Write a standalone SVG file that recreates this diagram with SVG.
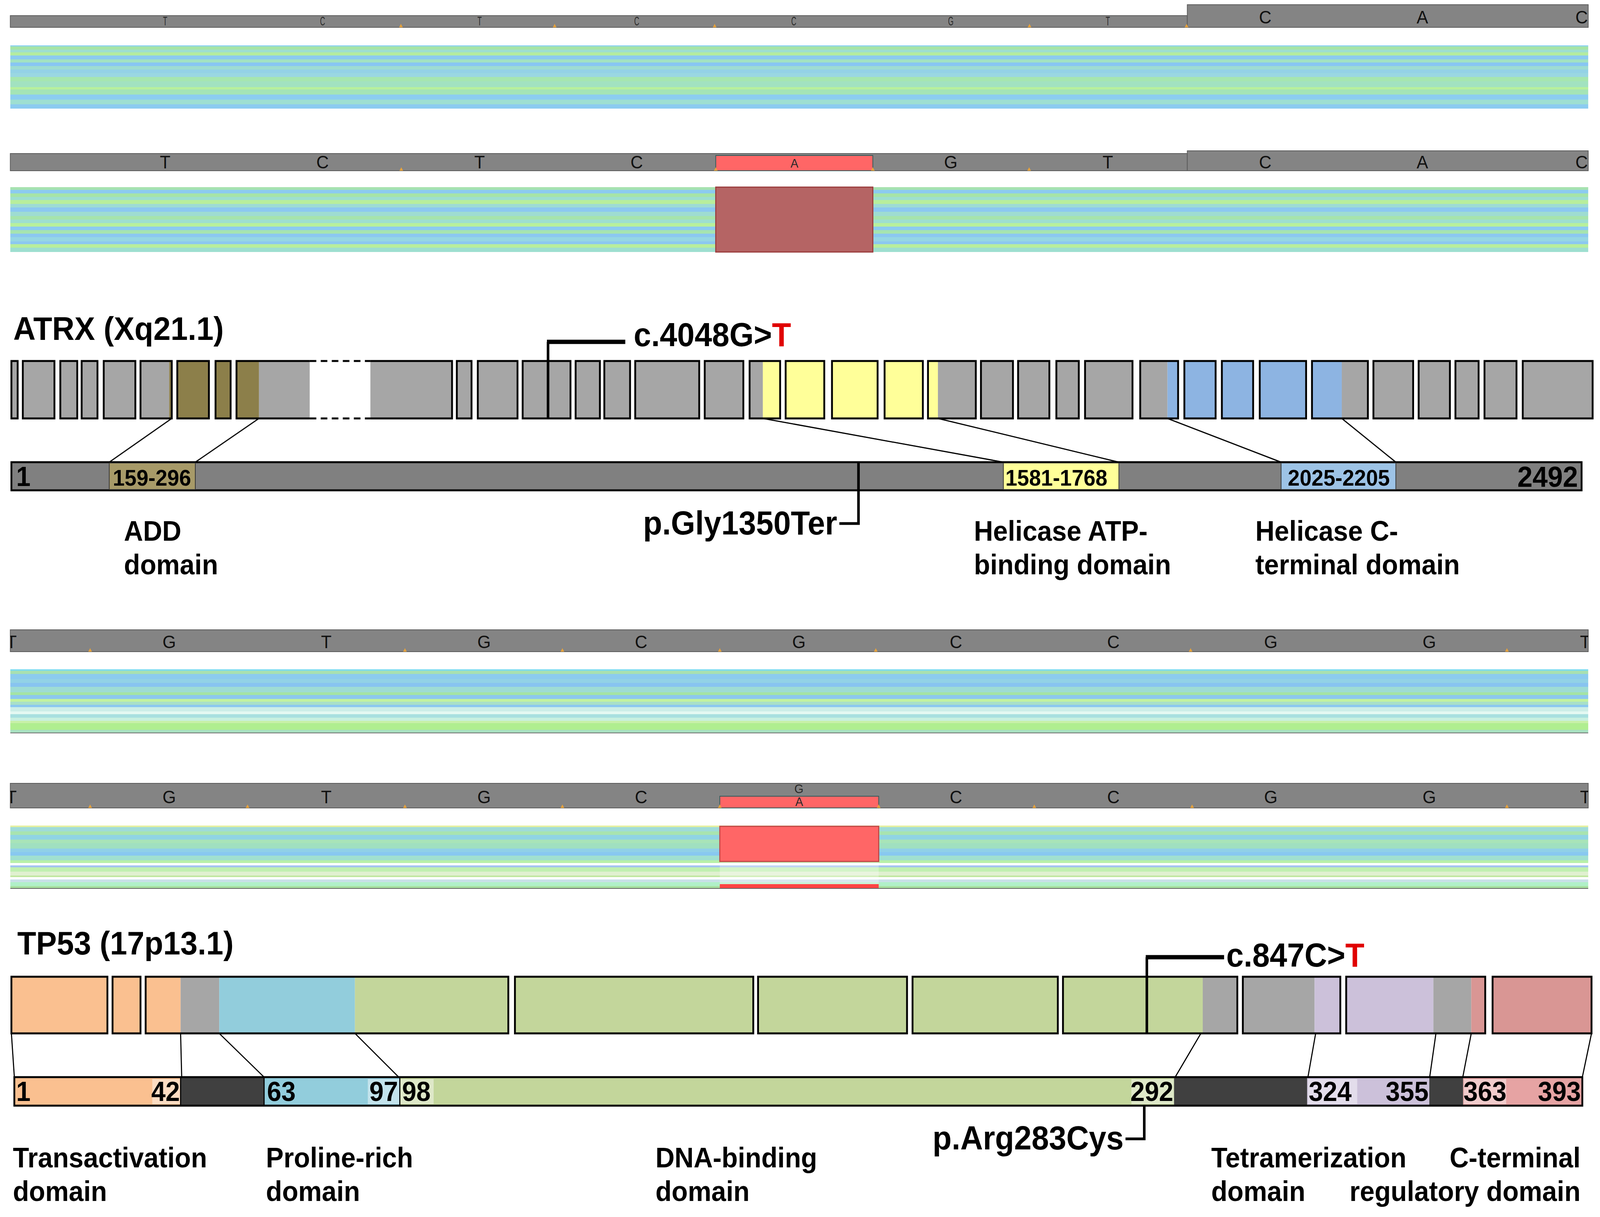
<svg xmlns="http://www.w3.org/2000/svg" width="4350" height="3115" viewBox="0 0 4350 3115">
<style>
.bar{fill:#848484;stroke:#5c5c5c;stroke-width:2}
.base{font-family:"Liberation Sans",Arial,sans-serif;font-size:47px;fill:#111;text-anchor:middle}
.tiny{font-family:"Liberation Sans",Arial,sans-serif;font-size:32px;fill:#2a2a2a;text-anchor:middle}
.pk{fill:#e6a23c}
.ex{stroke:#000;stroke-width:5}
.ol{fill:none;stroke:#000;stroke-width:5}
.g{fill:#a6a6a6}.o{fill:#8c7f4a}.y{fill:#ffff99}.b{fill:#8db4e2}
.pe{fill:#fac090}.bl{fill:#92cddc}.gr{fill:#c3d69b}.lv{fill:#ccc1da}.pi{fill:#d99694}.dk{fill:#404040}
.t{font-family:"Liberation Sans",Arial,sans-serif;font-weight:bold;fill:#000}
.ttl{font-size:84px}.mut{font-size:85px}.lbl{font-size:72px}.num{font-size:70px}.rng{font-size:58px;text-anchor:middle}
.conn{stroke:#000;stroke-width:3;fill:none}
.mline{stroke:#000;stroke-width:7;fill:none}
.mh{stroke:#000;stroke-width:11;fill:none}
.halo{fill:#fff;opacity:0.45}
</style>
<defs>
<clipPath id="clipTrack"><rect x="28" y="0" width="4290" height="3115"/></clipPath>
<linearGradient id="bandA" x1="0" y1="0" x2="0" y2="1">
<stop offset="0" stop-color="#8fd3ee"/><stop offset=".02" stop-color="#8fd3ee"/>
<stop offset=".02" stop-color="#a6e4a6"/><stop offset=".07" stop-color="#a6e4a6"/>
<stop offset=".07" stop-color="#9edfd0"/><stop offset=".11" stop-color="#9edfd0"/>
<stop offset=".11" stop-color="#b4eca0"/><stop offset=".16" stop-color="#b4eca0"/>
<stop offset=".16" stop-color="#8ccbf0"/><stop offset=".22" stop-color="#8ccbf0"/>
<stop offset=".22" stop-color="#a2e2c2"/><stop offset=".27" stop-color="#a2e2c2"/>
<stop offset=".27" stop-color="#88c6f2"/><stop offset=".33" stop-color="#88c6f2"/>
<stop offset=".33" stop-color="#9edcd2"/><stop offset=".38" stop-color="#9edcd2"/>
<stop offset=".38" stop-color="#94d2e6"/><stop offset=".44" stop-color="#94d2e6"/>
<stop offset=".44" stop-color="#9ad7e2"/><stop offset=".50" stop-color="#9ad7e2"/>
<stop offset=".50" stop-color="#a6e6b0"/><stop offset=".57" stop-color="#a6e6b0"/>
<stop offset=".57" stop-color="#a2e2c0"/><stop offset=".66" stop-color="#a2e2c0"/>
<stop offset=".66" stop-color="#b8f09c"/><stop offset=".70" stop-color="#b8f09c"/>
<stop offset=".70" stop-color="#a4e4b6"/><stop offset=".78" stop-color="#a4e4b6"/>
<stop offset=".78" stop-color="#8ccdf0"/><stop offset=".86" stop-color="#8ccdf0"/>
<stop offset=".86" stop-color="#9edfd2"/><stop offset=".93" stop-color="#9edfd2"/>
<stop offset=".93" stop-color="#8ccbf0"/><stop offset="1" stop-color="#8ccbf0"/>
</linearGradient>
<linearGradient id="bandB" x1="0" y1="0" x2="0" y2="1">
<stop offset="0" stop-color="#a6e2b0"/><stop offset=".04" stop-color="#a6e2b0"/>
<stop offset=".04" stop-color="#8ccbf0"/><stop offset=".095" stop-color="#8ccbf0"/>
<stop offset=".095" stop-color="#a6e4a8"/><stop offset=".15" stop-color="#a6e4a8"/>
<stop offset=".15" stop-color="#9edfd0"/><stop offset=".2" stop-color="#9edfd0"/>
<stop offset=".2" stop-color="#b8ee9c"/><stop offset=".257" stop-color="#b8ee9c"/>
<stop offset=".257" stop-color="#9edcd4"/><stop offset=".311" stop-color="#9edcd4"/>
<stop offset=".311" stop-color="#8cc8f0"/><stop offset=".378" stop-color="#8cc8f0"/>
<stop offset=".378" stop-color="#9edcd2"/><stop offset=".446" stop-color="#9edcd2"/>
<stop offset=".446" stop-color="#a6e4ac"/><stop offset=".5" stop-color="#a6e4ac"/>
<stop offset=".5" stop-color="#9edfd0"/><stop offset=".554" stop-color="#9edfd0"/>
<stop offset=".554" stop-color="#b8f09c"/><stop offset=".608" stop-color="#b8f09c"/>
<stop offset=".608" stop-color="#8ccbf0"/><stop offset=".662" stop-color="#8ccbf0"/>
<stop offset=".662" stop-color="#a6e4b0"/><stop offset=".716" stop-color="#a6e4b0"/>
<stop offset=".716" stop-color="#8cc8f0"/><stop offset=".77" stop-color="#8cc8f0"/>
<stop offset=".77" stop-color="#96d6e4"/><stop offset=".838" stop-color="#96d6e4"/>
<stop offset=".838" stop-color="#8cc8f0"/><stop offset=".878" stop-color="#8cc8f0"/>
<stop offset=".878" stop-color="#b8ee9c"/><stop offset=".932" stop-color="#b8ee9c"/>
<stop offset=".932" stop-color="#9edfd0"/><stop offset="1" stop-color="#9edfd0"/>
</linearGradient>
<linearGradient id="bandC" x1="0" y1="0" x2="0" y2="1">
<stop offset="0" stop-color="#7fdcef"/><stop offset=".023" stop-color="#7fdcef"/>
<stop offset=".023" stop-color="#a8e0b0"/><stop offset=".074" stop-color="#a8e0b0"/>
<stop offset=".074" stop-color="#8ccbee"/><stop offset=".150" stop-color="#8ccbee"/>
<stop offset=".150" stop-color="#92d2e6"/><stop offset=".215" stop-color="#92d2e6"/>
<stop offset=".215" stop-color="#88c4f0"/><stop offset=".272" stop-color="#88c4f0"/>
<stop offset=".272" stop-color="#9edcd4"/><stop offset=".357" stop-color="#9edcd4"/>
<stop offset=".357" stop-color="#a4e4a4"/><stop offset=".405" stop-color="#a4e4a4"/>
<stop offset=".405" stop-color="#8cc8ee"/><stop offset=".462" stop-color="#8cc8ee"/>
<stop offset=".462" stop-color="#c2f2a0"/><stop offset=".504" stop-color="#c2f2a0"/>
<stop offset=".504" stop-color="#a8e0c8"/><stop offset=".555" stop-color="#a8e0c8"/>
<stop offset=".555" stop-color="#8cc8f0"/><stop offset=".589" stop-color="#8cc8f0"/>
<stop offset=".589" stop-color="#cdeee8"/><stop offset=".660" stop-color="#cdeee8"/>
<stop offset=".660" stop-color="#e4f8f2"/><stop offset=".703" stop-color="#e4f8f2"/>
<stop offset=".703" stop-color="#a8e0e0"/><stop offset=".759" stop-color="#a8e0e0"/>
<stop offset=".759" stop-color="#c8f0e0"/><stop offset=".802" stop-color="#c8f0e0"/>
<stop offset=".802" stop-color="#c8f0a8"/><stop offset=".844" stop-color="#c8f0a8"/>
<stop offset=".844" stop-color="#b0ee90"/><stop offset=".943" stop-color="#b0ee90"/>
<stop offset=".943" stop-color="#a8e0c0"/><stop offset=".986" stop-color="#a8e0c0"/>
<stop offset=".986" stop-color="#707070"/><stop offset="1" stop-color="#707070"/>
</linearGradient>
<linearGradient id="bandD" x1="0" y1="0" x2="0" y2="1">
<stop offset="0" stop-color="#e6f0a0"/><stop offset=".023" stop-color="#e6f0a0"/>
<stop offset=".023" stop-color="#a0dcd8"/><stop offset=".093" stop-color="#a0dcd8"/>
<stop offset=".093" stop-color="#a8e4b0"/><stop offset=".150" stop-color="#a8e4b0"/>
<stop offset=".150" stop-color="#90d4e4"/><stop offset=".221" stop-color="#90d4e4"/>
<stop offset=".221" stop-color="#a8e4b8"/><stop offset=".278" stop-color="#a8e4b8"/>
<stop offset=".278" stop-color="#a0e0c0"/><stop offset=".363" stop-color="#a0e0c0"/>
<stop offset=".363" stop-color="#90d0e8"/><stop offset=".419" stop-color="#90d0e8"/>
<stop offset=".419" stop-color="#88c8f0"/><stop offset=".476" stop-color="#88c8f0"/>
<stop offset=".476" stop-color="#a0e0d0"/><stop offset=".547" stop-color="#a0e0d0"/>
<stop offset=".547" stop-color="#b8f0a8"/><stop offset=".595" stop-color="#b8f0a8"/>
<stop offset=".595" stop-color="#ffffff"/><stop offset=".632" stop-color="#ffffff"/>
<stop offset=".632" stop-color="#a4c4f0"/><stop offset=".660" stop-color="#a4c4f0"/>
<stop offset=".660" stop-color="#c0f0b0"/><stop offset=".731" stop-color="#c0f0b0"/>
<stop offset=".731" stop-color="#e0f0d0"/><stop offset=".788" stop-color="#e0f0d0"/>
<stop offset=".788" stop-color="#c0e8a0"/><stop offset=".816" stop-color="#c0e8a0"/>
<stop offset=".816" stop-color="#ffffff"/><stop offset=".850" stop-color="#ffffff"/>
<stop offset=".850" stop-color="#c8e0e8"/><stop offset=".895" stop-color="#c8e0e8"/>
<stop offset=".895" stop-color="#b0f0c8"/><stop offset=".958" stop-color="#b0f0c8"/>
<stop offset=".958" stop-color="#a8e0a0"/><stop offset=".986" stop-color="#a8e0a0"/>
<stop offset=".986" stop-color="#606060"/><stop offset="1" stop-color="#606060"/>
</linearGradient>
</defs>
<rect width="4350" height="3115" fill="#fff"/>
<g id="figure" transform="scale(0.9416,1)">

<!-- ATRX sequencing traces -->
<g id="atrx-reference-trace">
<rect class="bar" x="28" y="40" width="3200" height="30"/>
<rect class="bar" x="3228" y="12" width="1090" height="58"/>
<g clip-path="url(#clipTrack)">
<text class="tiny" transform="translate(449,65) scale(0.6,1)">T</text>
<text class="tiny" transform="translate(877,65) scale(0.6,1)">C</text>
<text class="tiny" transform="translate(1304,65) scale(0.6,1)">T</text>
<text class="tiny" transform="translate(1731,65) scale(0.6,1)">C</text>
<text class="tiny" transform="translate(2158,65) scale(0.6,1)">C</text>
<text class="tiny" transform="translate(2585,65) scale(0.6,1)">G</text>
<text class="tiny" transform="translate(3012,65) scale(0.6,1)">T</text>
<text class="base" x="3440" y="60">C</text>
<text class="base" x="3867" y="60">A</text>
<text class="base" x="4300" y="60">C</text>
</g>
<path class="pk" d="M1085,70 L1090,61 L1095,70 Z M1503,70 L1508,61 L1513,70 Z M1938,70 L1943,61 L1948,70 Z M2794,70 L2799,61 L2804,70 Z M3221,70 L3226,61 L3231,70 Z"/>
<rect x="28" y="116" width="4290" height="162" fill="url(#bandA)"/>
</g>
<g id="atrx-patient-trace">
<rect class="bar" x="28" y="393" width="3200" height="44"/>
<rect class="bar" x="3228" y="386" width="1090" height="51"/>
<rect x="1946" y="398" width="427" height="39" fill="#ff6666" stroke="#2f5a5a" stroke-width="2"/>
<g clip-path="url(#clipTrack)">
<text class="base" x="449" y="431">T</text>
<text class="base" x="877" y="431">C</text>
<text class="base" x="1304" y="431">T</text>
<text class="base" x="1731" y="431">C</text>
<text class="tiny" x="2160" y="429" fill="#7a1a1a">A</text>
<text class="base" x="2585" y="431">G</text>
<text class="base" x="3012" y="431">T</text>
<text class="base" x="3440" y="431">C</text>
<text class="base" x="3867" y="431">A</text>
<text class="base" x="4300" y="431">C</text>
</g>
<path class="pk" d="M1086,437 L1091,428 L1096,437 Z M1941,437 L1946,428 L1951,437 Z M2368,437 L2373,428 L2378,437 Z M2793,437 L2798,428 L2803,437 Z"/>
<rect x="28" y="479" width="4290" height="166" fill="url(#bandB)"/>
<rect x="1946" y="479" width="427" height="166" fill="#b56464" stroke="#9a3c3c" stroke-width="3"/>
</g>

<!-- ATRX gene -->
<g id="atrx-title"><text class="t ttl" x="36" y="870">ATRX (Xq21.1)</text></g>
<g id="atrx-exons">
<rect class="g ex" x="31" y="924" width="17" height="147"/>
<rect class="g ex" x="62" y="924" width="86" height="147"/>
<rect class="g ex" x="164" y="924" width="46" height="147"/>
<rect class="g ex" x="222" y="924" width="43" height="147"/>
<rect class="g ex" x="282" y="924" width="86" height="147"/>
<rect class="g" x="382" y="924" width="78" height="147"/><rect class="o" x="460" y="924" width="7" height="147"/><rect class="ol" x="382" y="924" width="85" height="147"/>
<rect class="o ex" x="482" y="924" width="86" height="147"/>
<rect class="o ex" x="586" y="924" width="41" height="147"/>
<rect class="o" x="643" y="924" width="61" height="147"/><rect class="g" x="704" y="924" width="138" height="147"/><rect class="g" x="1007" y="924" width="222" height="147"/>
<path class="ol" d="M842,924 H643 V1071 H842 M1007,924 H1229 V1071 H1007"/>
<path class="ol" stroke-dasharray="18 12" d="M842,924 H1007 M842,1071 H1007"/>
<rect class="g ex" x="1242" y="924" width="40" height="147"/>
<rect class="g ex" x="1299" y="924" width="108" height="147"/>
<rect class="g ex" x="1421" y="924" width="130" height="147"/>
<rect class="g ex" x="1565" y="924" width="66" height="147"/>
<rect class="g ex" x="1643" y="924" width="70" height="147"/>
<rect class="g ex" x="1727" y="924" width="174" height="147"/>
<rect class="g ex" x="1916" y="924" width="105" height="147"/>
<rect class="g" x="2038" y="924" width="36" height="147"/><rect class="y" x="2074" y="924" width="47" height="147"/><rect class="ol" x="2038" y="924" width="83" height="147"/>
<rect class="y ex" x="2136" y="924" width="105" height="147"/>
<rect class="y ex" x="2262" y="924" width="124" height="147"/>
<rect class="y ex" x="2405" y="924" width="104" height="147"/>
<rect class="y" x="2523" y="924" width="27" height="147"/><rect class="g" x="2550" y="924" width="103" height="147"/><rect class="ol" x="2523" y="924" width="130" height="147"/>
<rect class="g ex" x="2667" y="924" width="87" height="147"/>
<rect class="g ex" x="2768" y="924" width="85" height="147"/>
<rect class="g ex" x="2872" y="924" width="61" height="147"/>
<rect class="g ex" x="2950" y="924" width="129" height="147"/>
<rect class="g" x="3100" y="924" width="74" height="147"/><rect class="b" x="3174" y="924" width="29" height="147"/><rect class="ol" x="3100" y="924" width="103" height="147"/>
<rect class="b ex" x="3220" y="924" width="85" height="147"/>
<rect class="b ex" x="3322" y="924" width="85" height="147"/>
<rect class="b ex" x="3425" y="924" width="126" height="147"/>
<rect class="b" x="3567" y="924" width="81" height="147"/><rect class="g" x="3648" y="924" width="71" height="147"/><rect class="ol" x="3567" y="924" width="152" height="147"/>
<rect class="g ex" x="3734" y="924" width="108" height="147"/>
<rect class="g ex" x="3857" y="924" width="85" height="147"/>
<rect class="g ex" x="3957" y="924" width="63" height="147"/>
<rect class="g ex" x="4036" y="924" width="87" height="147"/>
<rect class="g ex" x="4140" y="924" width="190" height="147"/>
</g>
<g id="atrx-protein">
<rect x="31" y="1183" width="4269" height="72" fill="#808080" stroke="#000" stroke-width="5"/>
<rect x="297" y="1185" width="234" height="68" fill="#a79a68" stroke="#333" stroke-width="2"/>
<rect x="2728" y="1185" width="314" height="68" fill="#ffff99" stroke="#333" stroke-width="2"/>
<rect x="3483" y="1185" width="312" height="68" fill="#9dc3e6" stroke="#333" stroke-width="2"/>
<text class="t num" x="44" y="1244" font-size="62">1</text>
<text class="t rng" x="413" y="1243">159-296</text>
<text class="t rng" x="2872" y="1243">1581-1768</text>
<text class="t rng" x="3640" y="1243">2025-2205</text>
<text class="t" x="4290" y="1246" font-size="74" text-anchor="end">2492</text>
</g>
<g id="atrx-connectors">
<line class="conn" x1="467" y1="1071" x2="297" y2="1183"/>
<line class="conn" x1="704" y1="1071" x2="531" y2="1183"/>
<line class="conn" x1="2074" y1="1071" x2="2728" y2="1183"/>
<line class="conn" x1="2550" y1="1071" x2="3042" y2="1183"/>
<line class="conn" x1="3174" y1="1071" x2="3483" y2="1183"/>
<line class="conn" x1="3648" y1="1071" x2="3795" y2="1183"/>
<path class="mline" d="M1490,1071 V875"/>
<path class="mh" d="M1487,875 H1700"/>
<path class="mline" d="M2334,1183 V1340 H2282"/>
</g>
<g id="atrx-labels">
<text class="t mut" x="1723" y="886">c.4048G&gt;<tspan fill="#e00000">T</tspan></text>
<text class="t mut" x="2276" y="1368" text-anchor="end">p.Gly1350Ter</text>
<text class="t lbl" x="337" y="1384">ADD</text>
<text class="t lbl" x="337" y="1470">domain</text>
<text class="t lbl" x="2648" y="1384">Helicase ATP-</text>
<text class="t lbl" x="2648" y="1470">binding domain</text>
<text class="t lbl" x="3413" y="1384">Helicase C-</text>
<text class="t lbl" x="3413" y="1470">terminal domain</text>
</g>

<!-- TP53 sequencing traces -->
<g id="tp53-reference-trace">
<rect class="bar" x="28" y="1612" width="4290" height="56"/>
<g clip-path="url(#clipTrack)">
<text class="base" x="31" y="1659">T</text>
<text class="base" x="460" y="1659">G</text>
<text class="base" x="887" y="1659">T</text>
<text class="base" x="1316" y="1659">G</text>
<text class="base" x="1743" y="1659">C</text>
<text class="base" x="2172" y="1659">G</text>
<text class="base" x="2599" y="1659">C</text>
<text class="base" x="3027" y="1659">C</text>
<text class="base" x="3455" y="1659">G</text>
<text class="base" x="3886" y="1659">G</text>
<text class="base" x="4310" y="1659">T</text>
</g>
<path class="pk" d="M240,1668 L245,1659 L250,1668 Z M1096,1668 L1101,1659 L1106,1668 Z M1524,1668 L1529,1659 L1534,1668 Z M1952,1668 L1957,1659 L1962,1668 Z M2376,1668 L2381,1659 L2386,1668 Z M3232,1668 L3237,1659 L3242,1668 Z M4092,1668 L4097,1659 L4102,1668 Z"/>
<rect x="28" y="1713" width="4290" height="164" fill="url(#bandC)"/>
</g>
<g id="tp53-patient-trace">
<rect class="bar" x="28" y="2005" width="4290" height="63"/>
<rect x="1957" y="2038" width="432" height="30" fill="#ff6666" stroke="#2f5a5a" stroke-width="2"/>
<g clip-path="url(#clipTrack)">
<text class="base" x="31" y="2056">T</text>
<text class="base" x="460" y="2056">G</text>
<text class="base" x="887" y="2056">T</text>
<text class="base" x="1316" y="2056">G</text>
<text class="base" x="1743" y="2056">C</text>
<text class="tiny" x="2172" y="2030" font-size="20">G</text>
<text class="tiny" x="2173" y="2063" font-size="26" fill="#7a1a1a">A</text>
<text class="base" x="2599" y="2056">C</text>
<text class="base" x="3027" y="2056">C</text>
<text class="base" x="3455" y="2056">G</text>
<text class="base" x="3886" y="2056">G</text>
<text class="base" x="4310" y="2056">T</text>
</g>
<path class="pk" d="M240,2068 L245,2059 L250,2068 Z M668,2068 L673,2059 L678,2068 Z M1096,2068 L1101,2059 L1106,2068 Z M1524,2068 L1529,2059 L1534,2068 Z M1952,2068 L1957,2059 L1962,2068 Z M2384,2068 L2389,2059 L2394,2068 Z M2807,2068 L2812,2059 L2817,2068 Z M3236,2068 L3241,2059 L3246,2068 Z M4092,2068 L4097,2059 L4102,2068 Z"/>
<rect x="28" y="2113" width="4290" height="162" fill="url(#bandD)"/>
<rect x="1957" y="2115" width="432" height="90" fill="#ff6666" stroke="#c04848" stroke-width="3"/>
<rect x="1957" y="2207" width="432" height="56" fill="#fff" opacity="0.3"/>
<rect x="1957" y="2263" width="432" height="10" fill="#ff4444"/>
</g>

<!-- TP53 gene -->
<g id="tp53-title"><text class="t ttl" x="47" y="2443">TP53 (17p13.1)</text></g>
<g id="tp53-exons">
<rect class="pe ex" x="31" y="2500" width="261" height="145"/>
<rect class="pe ex" x="306" y="2500" width="76" height="145"/>
<rect class="pe" x="396" y="2500" width="95" height="145"/><rect class="g" x="491" y="2500" width="105" height="145"/><rect class="bl" x="596" y="2500" width="369" height="145"/><rect class="gr" x="965" y="2500" width="417" height="145"/><rect class="ol" x="396" y="2500" width="986" height="145"/>
<rect class="gr ex" x="1400" y="2500" width="648" height="145"/>
<rect class="gr ex" x="2061" y="2500" width="405" height="145"/>
<rect class="gr ex" x="2481" y="2500" width="395" height="145"/>
<rect class="gr" x="2890" y="2500" width="380" height="145"/><rect class="g" x="3270" y="2500" width="94" height="145"/><rect class="ol" x="2890" y="2500" width="474" height="145"/>
<rect class="g" x="3379" y="2500" width="195" height="145"/><rect class="lv" x="3574" y="2500" width="70" height="145"/><rect class="ol" x="3379" y="2500" width="265" height="145"/>
<rect class="lv" x="3660" y="2500" width="237" height="145"/><rect class="g" x="3897" y="2500" width="103" height="145"/><rect class="pi" x="4000" y="2500" width="38" height="145"/><rect class="ol" x="3660" y="2500" width="378" height="145"/>
<rect class="pi ex" x="4058" y="2500" width="269" height="145"/>
</g>
<g id="tp53-protein">
<rect class="pe" x="39" y="2757" width="452" height="73"/>
<rect class="dk" x="491" y="2757" width="227" height="73"/>
<rect class="bl" x="718" y="2757" width="369" height="73"/>
<rect class="gr" x="1087" y="2757" width="2105" height="73"/>
<rect class="dk" x="3192" y="2757" width="362" height="73"/>
<rect class="lv" x="3554" y="2757" width="332" height="73"/>
<rect class="dk" x="3886" y="2757" width="92" height="73"/>
<rect x="3978" y="2757" width="324" height="73" fill="#e6a3a3"/>
<rect class="halo" x="414" y="2762" width="77" height="64"/>
<rect class="halo" x="1000" y="2762" width="86" height="64"/>
<rect class="halo" x="1089" y="2762" width="90" height="64"/>
<rect class="halo" x="3076" y="2762" width="115" height="64"/>
<rect class="halo" x="3556" y="2762" width="134" height="64"/>
<rect class="halo" x="3980" y="2762" width="115" height="64"/>
<rect class="ol" x="39" y="2757" width="4263" height="73"/>
<line stroke="#000" stroke-width="3" x1="491" y1="2757" x2="491" y2="2830"/>
<line stroke="#000" stroke-width="3" x1="718" y1="2757" x2="718" y2="2830"/>
<line stroke="#000" stroke-width="3" x1="1087" y1="2757" x2="1087" y2="2830"/>
<text class="t num" x="44" y="2818">1</text>
<text class="t num" x="489" y="2818" text-anchor="end">42</text>
<text class="t num" x="726" y="2818">63</text>
<text class="t num" x="1082" y="2818" text-anchor="end">97</text>
<text class="t num" x="1093" y="2818">98</text>
<text class="t num" x="3190" y="2818" text-anchor="end">292</text>
<text class="t num" x="3558" y="2818">324</text>
<text class="t num" x="3884" y="2818" text-anchor="end">355</text>
<text class="t num" x="3979" y="2818">363</text>
<text class="t num" x="4298" y="2818" text-anchor="end">393</text>
</g>
<g id="tp53-connectors">
<line class="conn" x1="31" y1="2645" x2="39" y2="2757"/>
<line class="conn" x1="491" y1="2645" x2="494" y2="2757"/>
<line class="conn" x1="596" y1="2645" x2="718" y2="2757"/>
<line class="conn" x1="965" y1="2645" x2="1084" y2="2757"/>
<line class="conn" x1="3265" y1="2645" x2="3195" y2="2757"/>
<line class="conn" x1="3577" y1="2645" x2="3556" y2="2757"/>
<line class="conn" x1="3904" y1="2645" x2="3887" y2="2757"/>
<line class="conn" x1="4000" y1="2645" x2="3977" y2="2757"/>
<line class="conn" x1="4327" y1="2645" x2="4302" y2="2757"/>
<path class="mline" d="M3118,2645 V2450"/>
<path class="mh" d="M3115,2450 H3328"/>
<path class="mline" d="M3111,2830 V2915 H3060"/>
</g>
<g id="tp53-labels">
<text class="t mut" x="3334" y="2474">c.847C&gt;<tspan fill="#e00000">T</tspan></text>
<text class="t mut" x="3055" y="2942" text-anchor="end">p.Arg283Cys</text>
<text class="t lbl" x="35" y="2988">Transactivation</text>
<text class="t lbl" x="35" y="3074">domain</text>
<text class="t lbl" x="723" y="2988">Proline-rich</text>
<text class="t lbl" x="723" y="3074">domain</text>
<text class="t lbl" x="1782" y="2988">DNA-binding</text>
<text class="t lbl" x="1782" y="3074">domain</text>
<text class="t lbl" x="3293" y="2988">Tetramerization</text>
<text class="t lbl" x="3293" y="3074">domain</text>
<text class="t lbl" x="4297" y="2988" text-anchor="end">C-terminal</text>
<text class="t lbl" x="4297" y="3074" text-anchor="end">regulatory domain</text>
</g>
</g>
</svg>
